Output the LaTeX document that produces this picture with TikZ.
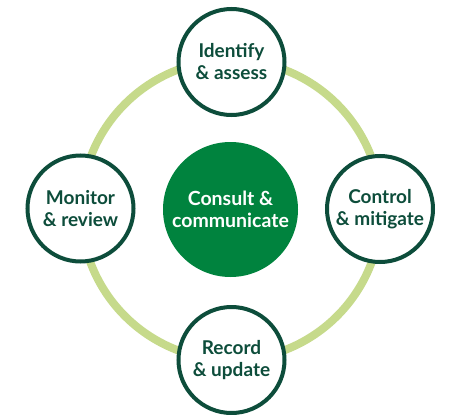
\documentclass[tikz,border=0pt]{standalone}
\usepackage{fontspec}
\setmainfont{Lato}
\definecolor{darkg}{HTML}{0D4D3B}
\definecolor{midg}{HTML}{00833E}
\definecolor{lightg}{HTML}{C6DA8B}
\begin{document}
\begin{tikzpicture}[x=1pt,y=-1pt,
  stage/.style={circle,draw=darkg,line width=4pt,fill=white,minimum size=106pt,inner sep=0pt,
    align=center,text=darkg,font=\fontsize{19}{22}\selectfont\bfseries},
  hub/.style={circle,fill=midg,minimum size=135pt,inner sep=0pt,align=center,text=white,
    font=\fontsize{19.5}{22}\selectfont\bfseries}]
\useasboundingbox (0,0) rectangle (450,415);
\coordinate (o) at (231,210);
\draw[lightg,line width=8pt] (o) circle[radius=150pt];
\node[hub] (c) at (230.5,209.5) {Consult \&\\communicate};
\node[stage] (t) at (231.5,62) {Identify\\\& assess};
\node[stage] (r) at (380,209) {Control\\\& mitigate};
\node[stage] (b) at (231.5,360) {Record\\\& update};
\node[stage] (l) at (80.5,208.5) {Monitor\\\& review};
\end{tikzpicture}
\end{document}
